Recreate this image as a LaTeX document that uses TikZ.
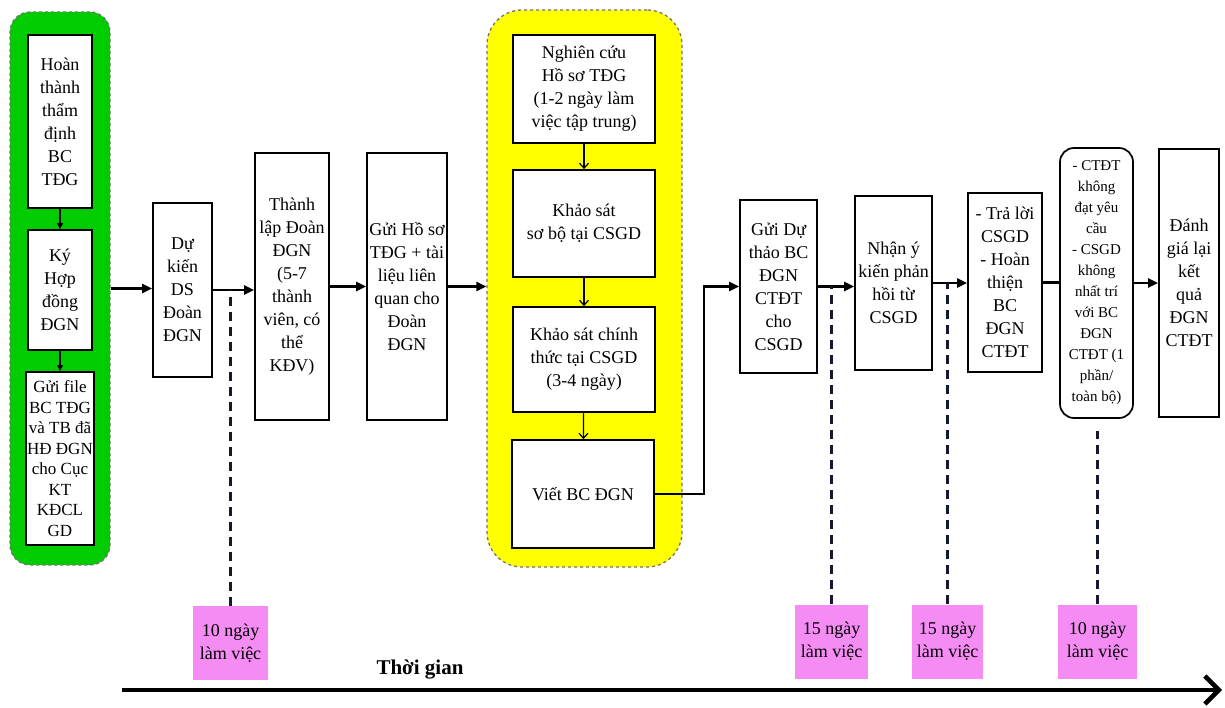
\documentclass[tikz,border=0pt]{standalone}
\usepackage{fontspec}
\setmainfont{Liberation Serif}
\usetikzlibrary{arrows.meta,positioning}
\definecolor{grpgreen}{RGB}{0,204,0}
\definecolor{grpyellow}{RGB}{255,255,0}
\definecolor{daypink}{RGB}{244,140,244}
\definecolor{tickblue}{RGB}{20,24,50}

\begin{document}
\begin{tikzpicture}[x=1pt, y=-1pt, >=Stealth,
  every node/.style={font=\fontsize{18}{23}\selectfont},
  box/.style={draw, line width=1.7pt, fill=white, align=center, inner sep=1pt},
  grp/.style={draw=black!55, dashed, line width=1.3pt},
  flow/.style={-{Triangle[length=10pt,width=9pt]}, line width=2.4pt},
  gflow/.style={-{Triangle[length=6pt,width=6pt]}, line width=1.2pt},
  yflow/.style={-{Straight Barb[length=5pt,width=9pt]}, line width=1.2pt},
  tick/.style={draw=tickblue, dash pattern=on 9pt off 6pt, line width=2.2pt},
  days/.style={fill=daypink, align=center, minimum width=75, minimum height=74, inner sep=0pt}]
  \useasboundingbox (0,0) rectangle (1225,708);

  % Group 1 (green)
  \node[grp, fill=grpgreen, rounded corners=20pt, minimum width=100, minimum height=553] (grp1) at (60,288.5) {};
  \node[box, minimum width=64, minimum height=173] (h1) at (60,121.5) {Hoàn\\thành\\thẩm\\định\\BC\\TĐG};
  \node[box, minimum width=64, minimum height=120] (h2) at (60,290) {Ký\\Hợp\\đồng\\ĐGN};
  \node[box, minimum width=64, minimum height=173, font=\fontsize{17}{20.5}\selectfont] (h3) at (60,458.5) {Gửi file\\BC TĐG\\và TB đã\\HĐ ĐGN\\cho Cục\\KT\\KĐCL\\GD};
  \draw[gflow] (h1) -- (h2);
  \draw[gflow] (h2) -- (h3);

  % Preparation steps
  \node[box, minimum width=59, minimum height=174] (d1) at (182.5,290) {Dự\\kiến\\DS\\Đoàn\\ĐGN};
  \node[box, minimum width=74, minimum height=267] (d2) at (292,286.5) {Thành\\lập Đoàn\\ĐGN\\(5-7\\thành\\viên, có\\thể\\KĐV)};
  \node[box, minimum width=80, minimum height=267] (d3) at (407,286.5) {Gửi Hồ sơ\\TĐG + tài\\liệu liên\\quan cho\\Đoàn\\ĐGN};
  \draw[flow] (grp1.east) -- (grp1.east -| d1.west);
  \draw[flow] (d1.east) -- (d1.east -| d2.west);
  \draw[flow] (d2.east) -- (d3.west);

  % Group 2 (yellow)
  \node[grp, fill=grpyellow, rounded corners=35pt, minimum width=195, minimum height=557] (grp2) at (584.5,288.5) {};
  \node[box, minimum width=142, minimum height=108] (y1) at (584,89) {Nghiên cứu\\Hồ sơ TĐG\\(1-2 ngày làm\\việc tập trung)};
  \node[box, minimum width=142, minimum height=107] (y2) at (584,223.5) {Khảo sát\\sơ bộ tại CSGD};
  \node[box, minimum width=142, minimum height=105] (y3) at (584,359.5) {Khảo sát chính\\thức tại CSGD\\(3-4 ngày)};
  \node[box, minimum width=142, minimum height=108] (y4) at (583,494) {Viết BC ĐGN};
  \draw[flow] (d3.east) -- (d3.east -| grp2.west);
  \draw[yflow] (y1) -- (y2);
  \draw[yflow] (y2) -- (y3);
  \draw[yflow] (y3) -- (y4);

  % Report steps
  \node[box, minimum width=77, minimum height=173] (e1) at (778.5,286.5) {Gửi Dự\\thảo BC\\ĐGN\\CTĐT\\cho\\CSGD};
  \node[box, minimum width=77, minimum height=174] (e2) at (893.5,283) {Nhận ý\\kiến phản\\hồi từ\\CSGD};
  \node[box, minimum width=74, minimum height=179] (e3) at (1005,282.5) {- Trả lời\\CSGD\\- Hoàn\\thiện\\BC\\ĐGN\\CTĐT};
  \node[box, rounded corners=14pt, minimum width=73, minimum height=270, font=\fontsize{15}{21}\selectfont] (e4) at (1096.5,283) {- CTĐT\\không\\đạt yêu\\cầu\\- CSGD\\không\\nhất trí\\với BC\\ĐGN\\CTĐT (1\\phần/\\toàn bộ)};
  \node[box, minimum width=60, minimum height=268] (e5) at (1189,283) {Đánh\\giá lại\\kết\\quả\\ĐGN\\CTĐT};
  \draw[flow] (y4.east) -- ++(49,0) |- (e1.west);
  \draw[flow] (e1.east) -- (e1.east -| e2.west);
  \draw[flow] (e2.east) -- (e2.east -| e3.west);
  \draw[line width=2.4pt] (e3.east) -- (e3.east -| e4.west);
  \draw[flow] (e4.east) -- (e4.east -| e5.west);

  % Durations
  \node[days] (p1) at (230.5,643) {10 ngày\\làm việc};
  \node[days, minimum width=73] (p2) at (831.5,641.5) {15 ngày\\làm việc};
  \node[days, minimum width=71] (p3) at (947.5,641.5) {15 ngày\\làm việc};
  \node[days, minimum width=79] (p4) at (1097.5,641.5) {10 ngày\\làm việc};
  \draw[tick] (p1.north) -- (p1.north |- d1.east);
  \draw[tick] (p2.north) -- (p2.north |- e1.east);
  \draw[tick] (p3.north) -- (p3.north |- e2.east);
  \draw[tick] (p4.north) -- ([yshift=-12pt]p4.north |- e4.south);

  % Time axis
  \coordinate (t0) at (122,690);
  \coordinate (t1) at (1222,690);
  \draw[line width=4.5pt, -{Straight Barb[length=14pt,width=28pt]}] (t0) -- (t1);
  \node[font=\fontsize{21}{24}\selectfont\bfseries] (tlabel) at (420,670) {Thời gian};
\end{tikzpicture}
\end{document}
